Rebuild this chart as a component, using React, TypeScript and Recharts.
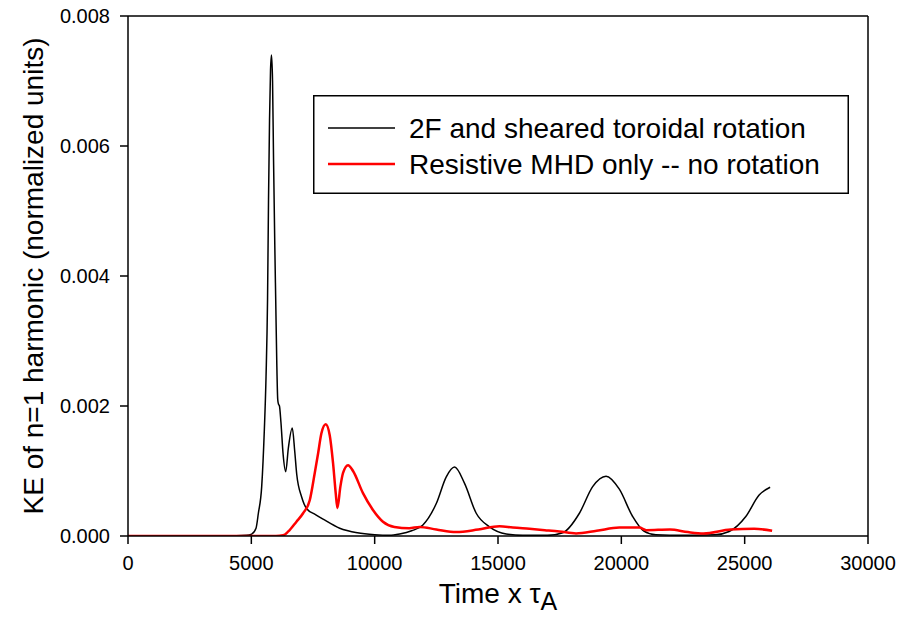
import React from 'react';
import { LineChart, Line, XAxis, YAxis, ReferenceLine, Legend } from 'recharts';

const blackTime = [0, 2000, 4000, 4800, 5015, 5190, 5285, 5420, 5527, 5596, 5657, 5697, 5738, 5778, 5818, 5860, 5900, 5950, 5990, 6030, 6070, 6100, 6140, 6200, 6290, 6393, 6500, 6660, 6760, 6840, 7040, 7245, 7600, 7907, 8583, 9300, 10000, 10600, 11012, 11500, 11956, 12498, 12903, 13239, 13644, 14117, 14656, 15332, 16000, 17000, 17624, 18300, 18838, 19380, 19919, 20458, 20900, 21400, 22500, 23800, 24372, 25047, 25587, 26032];
const blackKE = [0, 0, 0, 0.00001, 0.00003, 0.00012, 0.00035, 0.00076, 0.00163, 0.00245, 0.00363, 0.00518, 0.0064, 0.00717, 0.0074, 0.007, 0.0058, 0.0045, 0.0036, 0.0027, 0.0021, 0.00203, 0.002, 0.00175, 0.00125, 0.00099, 0.00135, 0.00166, 0.0013, 0.00095, 0.0006, 0.00042, 0.00033, 0.00026, 0.00012, 0.00005, 0.00002, 0.00001, 0.00003, 0.00008, 0.00017, 0.0005, 0.00091, 0.00106, 0.00081, 0.00035, 0.00014, 0.00003, 0.00001, 0.00001, 0.00005, 0.00035, 0.00076, 0.00092, 0.00072, 0.0003, 0.00008, 0.00002, 0.00001, 0.00002, 0.00007, 0.0003, 0.00063, 0.00075];

const redTime = [0, 3000, 6000, 6288, 6500, 6829, 7098, 7368, 7571, 7706, 7841, 8016, 8178, 8313, 8421, 8489, 8610, 8718, 8920, 9123, 9526, 9931, 10336, 10800, 11400, 11822, 12500, 13307, 14200, 15061, 15600, 16275, 16900, 17490, 18165, 19000, 19919, 20729, 21012, 21970, 22700, 23332, 24430, 25385, 26113];
const redKE = [0, 0, 0, 0.00001, 0.00007, 0.00022, 0.00035, 0.00055, 0.00097, 0.00127, 0.00158, 0.00172, 0.00155, 0.00112, 0.00066, 0.00043, 0.00076, 0.00097, 0.00109, 0.001, 0.00066, 0.0004, 0.00022, 0.00014, 0.00012, 0.00014, 0.0001, 0.00006, 0.0001, 0.00015, 0.00013, 0.00011, 0.00009, 0.00007, 0.00004, 0.00008, 0.00013, 0.00013, 0.00009, 0.0001, 0.00006, 0.00004, 0.0001, 0.00011, 0.00008];

const xTicks = [0, 5000, 10000, 15000, 20000, 25000, 30000];
const yTicks = [0, 0.002, 0.004, 0.006, 0.008];
const seriesNames = ['2F and sheared toroidal rotation', 'Resistive MHD only -- no rotation'];
const seriesColors = ['#000000', '#ff0000'];
const xTitle = 'Time x \u03c4';
const xTitleSub = 'A';
const yTitle = 'KE of n=1 harmonic (normalized units)';

const blackData = blackTime.map((t, i) => ({ t, v: blackKE[i] }));
const redData = redTime.map((t, i) => ({ t, v: redKE[i] }));

const FONT = '"Liberation Sans", Arial, sans-serif';

const XTick = (props: any) => {
  const { x, y, payload } = props;
  return (
    <text x={x} y={y} textAnchor="middle" dy="0.71em" fontSize={20} fontFamily={FONT} fill="#000">
      {payload.value}
    </text>
  );
};

const YTick = (props: any) => {
  const { x, y, payload } = props;
  return (
    <text x={x} y={y} textAnchor="end" dy="0.35em" fontSize={20} fontFamily={FONT} fill="#000">
      {Number(payload.value).toFixed(3)}
    </text>
  );
};

const XTitle = (props: any) => {
  const vb = props.viewBox || { x: 128, y: 536, width: 740, height: 98 };
  const cx = vb.x + vb.width / 2;
  return (
    <text x={cx} y={603} textAnchor="middle" fontSize={28} fontFamily={FONT} fill="#000">
      <tspan>{xTitle}</tspan>
      <tspan dy={7} fontSize={25}>{xTitleSub}</tspan>
    </text>
  );
};

const YTitle = (props: any) => {
  const vb = props.viewBox || { x: 0, y: 16, width: 128, height: 520 };
  const cy = vb.y + vb.height / 2;
  return (
    <text transform={`translate(${33},${cy}) rotate(-90)`} textAnchor="middle" dy="0.35em" fontSize={28} fontFamily={FONT} fill="#000">
      {yTitle}
    </text>
  );
};

const LegendBox = () => (
  <svg width={536} height={99} style={{ display: 'block' }}>
    <rect x={0.75} y={0.75} width={534.5} height={97.5} fill="#fff" stroke="#000" strokeWidth={1.5} />
    {seriesNames.map((name, i) => {
      const ly = 33 + i * 36;
      return (
        <g key={name}>
          <line x1={15} x2={82} y1={ly} y2={ly} stroke={seriesColors[i]} strokeWidth={i === 0 ? 1.5 : 2.5} />
          <text x={96} y={ly} dy="0.35em" fontSize={28} fontFamily={FONT} fill="#000">
            {name}
          </text>
        </g>
      );
    })}
  </svg>
);

export default function App() {
  return (
    <div style={{ position: 'fixed', left: 0, top: 0, width: 898, height: 634, background: '#fff' }}>
      <LineChart width={898} height={634} margin={{ top: 16, right: 30, bottom: 0, left: 0 }}>
        <XAxis
          type="number"
          dataKey="t"
          domain={[0, 30000]}
          ticks={xTicks}
          tickSize={8}
          tickMargin={12}
          height={98}
          axisLine={{ stroke: '#000', strokeWidth: 1.5 }}
          tickLine={{ stroke: '#000', strokeWidth: 1.5 }}
          tick={<XTick />}
          allowDataOverflow
          label={{ content: <XTitle /> } as any}
        />
        <YAxis
          type="number"
          domain={[0, 0.008]}
          ticks={yTicks}
          tickSize={8}
          tickMargin={10}
          width={128}
          axisLine={{ stroke: '#000', strokeWidth: 1.5 }}
          tickLine={{ stroke: '#000', strokeWidth: 1.5 }}
          tick={<YTick />}
          allowDataOverflow
          label={{ content: <YTitle /> } as any}
        />
        <ReferenceLine y={0.008} stroke="#000" strokeWidth={1.5} />
        <ReferenceLine x={30000} stroke="#000" strokeWidth={1.5} />
        <Line data={blackData} dataKey="v" type="monotone" stroke={seriesColors[0]} strokeWidth={1.5} dot={false} isAnimationActive={false} name={seriesNames[0]} />
        <Line data={redData} dataKey="v" type="monotone" stroke={seriesColors[1]} strokeWidth={2.5} dot={false} isAnimationActive={false} name={seriesNames[1]} />
        <Legend
          layout="horizontal"
          verticalAlign="middle"
          align="center"
          wrapperStyle={{ position: 'absolute', left: 313, top: 95, width: 536, height: 99 }}
          content={() => <LegendBox />}
        />
      </LineChart>
    </div>
  );
}
